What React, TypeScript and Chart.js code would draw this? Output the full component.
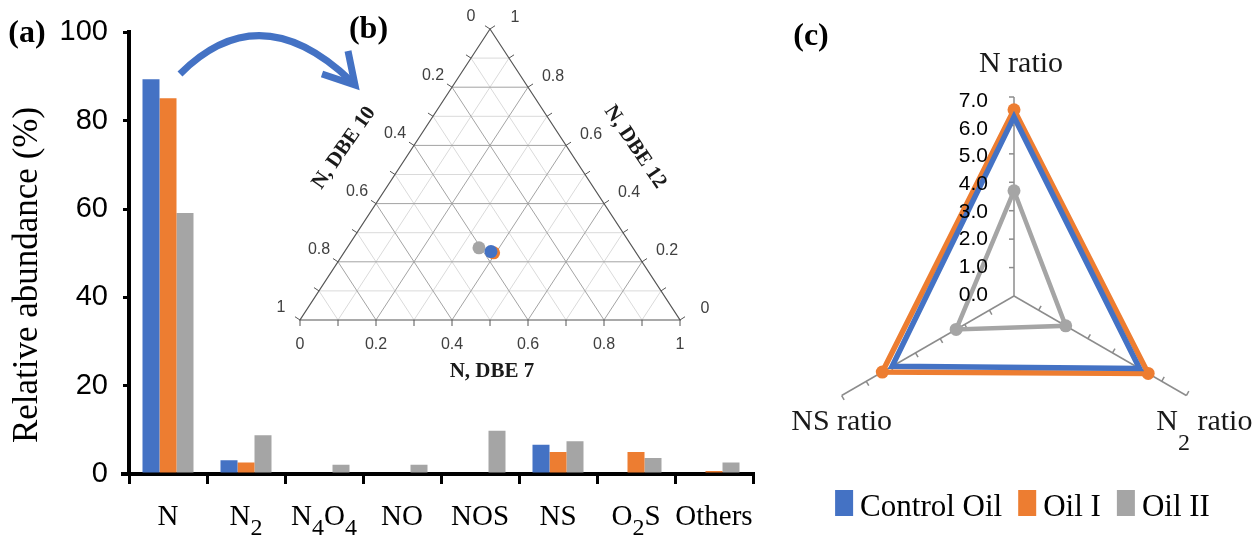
import React, { useEffect, useRef } from "react";
import { Chart, registerables } from "chart.js";

Chart.register(...registerables);

// ---------- Data ----------
const categories = ["N", "N2", "N4O4", "NO", "NOS", "NS", "O2S", "Others"];
const seriesNames = ["Control Oil", "Oil I", "Oil II"];
const controlOilAbundance = [89.4, 3.1, 0, 0, 0, 6.6, 0, 0];
const oilIAbundance = [85.1, 2.6, 0, 0, 0, 5.0, 5.0, 0.7];
const oilIIAbundance = [59.1, 8.8, 2.1, 2.1, 9.8, 7.4, 3.6, 2.6];
const abundanceTicks = [0, 20, 40, 60, 80, 100];

const ternaryDBE7 = [0.385, 0.394, 0.347];
const ternaryDBE10 = [0.38, 0.375, 0.405];
const ternaryDBE12 = [0.235, 0.231, 0.248];
const ternaryTickLabels = [0, 0.2, 0.4, 0.6, 0.8, 1];

const ratioLabels = ["N ratio", "N2 ratio", "NS ratio"];
const controlOilRatio = [6.3, 5.1, 4.95];
const oilIRatio = [6.55, 5.45, 5.35];
const oilIIRatio = [3.7, 2.1, 2.35];
const ratioTicks = [0, 1, 2, 3, 4, 5, 6, 7];

const COLORS = ["#4472C4", "#ED7D31", "#A5A5A5"];
const SERIF = '"Liberation Serif", "Times New Roman", serif';
const SANS = '"Liberation Sans", Arial, sans-serif';

// Draw a chemical-style label where digits are subscripts
function drawChem(
  ctx: CanvasRenderingContext2D,
  text: string,
  x: number,
  y: number,
  size: number,
  subSize: number,
  subShift: number,
  align: "center" | "left" | "right" = "center"
) {
  const runs = text.match(/\d+|\D+/g) || [];
  const mainFont = `${size}px ${SERIF}`;
  const subFont = `${subSize}px ${SERIF}`;
  const widths: number[] = [];
  let total = 0;
  for (const r of runs) {
    ctx.font = /\d/.test(r) ? subFont : mainFont;
    const w = ctx.measureText(r).width;
    widths.push(w);
    total += w;
  }
  let cx = align === "center" ? x - total / 2 : align === "right" ? x - total : x;
  ctx.textAlign = "left";
  ctx.textBaseline = "alphabetic";
  runs.forEach((r, i) => {
    const isSub = /\d/.test(r);
    ctx.font = isSub ? subFont : mainFont;
    ctx.fillText(r, cx, isSub ? y + subShift : y);
    cx += widths[i];
  });
}

// ---------- Bar chart (a) ----------
const barDecor = {
  id: "barDecor",
  afterDraw(chart: any) {
    const ctx: CanvasRenderingContext2D = chart.ctx;
    const xs = chart.scales.x;
    const area = chart.chartArea;
    ctx.save();
    // short extension of the x axis line to the left of the y axis
    ctx.strokeStyle = "#000";
    ctx.lineWidth = 4;
    ctx.beginPath();
    ctx.moveTo(area.left - 8, area.bottom);
    ctx.lineTo(area.left, area.bottom);
    ctx.stroke();
    ctx.fillStyle = "#000";
    categories.forEach((c, i) => {
      drawChem(ctx, c, xs.getPixelForValue(i), 525, 29, 24, 10, "center");
    });
    // y title
    ctx.save();
    ctx.translate(28, 275);
    ctx.rotate(-Math.PI / 2);
    ctx.font = `35px ${SERIF}`;
    ctx.textAlign = "center";
    ctx.textBaseline = "middle";
    ctx.fillText("Relative abundance (%)", 0, 0);
    ctx.restore();
    // panel label
    ctx.font = `bold 32px ${SERIF}`;
    ctx.textAlign = "center";
    ctx.textBaseline = "middle";
    ctx.fillText("(a)", 27, 34);
    // curved arrow
    ctx.strokeStyle = "#4472C4";
    ctx.lineWidth = 7;
    ctx.lineCap = "butt";
    ctx.lineJoin = "miter";
    ctx.beginPath();
    ctx.moveTo(180, 74);
    ctx.quadraticCurveTo(260, -6, 351, 81);
    ctx.stroke();
    ctx.beginPath();
    ctx.moveTo(322, 74);
    ctx.lineTo(355, 85);
    ctx.lineTo(348, 51);
    ctx.stroke();
    ctx.restore();
  },
};

function barConfig(): any {
  const values = [controlOilAbundance, oilIAbundance, oilIIAbundance];
  return {
    type: "bar",
    data: {
      labels: categories,
      datasets: seriesNames.map((n, i) => ({
        label: n,
        data: values[i],
        backgroundColor: COLORS[i],
        borderWidth: 0,
        categoryPercentage: 0.654,
        barPercentage: 1,
      })),
    },
    options: {
      responsive: false,
      animation: false,
      layout: { padding: { left: 0, top: 29, right: 17, bottom: 0 } },
      plugins: { legend: { display: false }, tooltip: { enabled: false } },
      scales: {
        x: {
          type: "category",
          grid: {
            offset: true,
            drawOnChartArea: false,
            drawTicks: true,
            tickLength: 10,
            color: "#000",
            lineWidth: 3,
          },
          border: { display: true, color: "#000", width: 4 },
          ticks: { display: false },
          afterFit: (s: any) => {
            s.height = 62;
          },
        },
        y: {
          min: 0,
          max: 100,
          afterBuildTicks: (s: any) => {
            s.ticks = abundanceTicks.map((v) => ({ value: v }));
          },
          ticks: {
            font: { family: SANS, size: 29 },
            color: "#000",
            padding: 15,
          },
          grid: {
            drawOnChartArea: false,
            tickLength: 6,
            color: "#000",
            lineWidth: 3,
          },
          border: { display: true, color: "#000", width: 4 },
          afterFit: (s: any) => {
            s.width = 129;
          },
        },
      },
    },
    plugins: [barDecor],
  };
}

// ---------- Ternary (b) ----------
const ternaryDecor = {
  id: "ternaryDecor",
  beforeDatasetsDraw(chart: any) {
    const ctx: CanvasRenderingContext2D = chart.ctx;
    const xs = chart.scales.x;
    const ys = chart.scales.y;
    const T = (b: number, r: number): [number, number] => [
      xs.getPixelForValue(b + 0.5 * r),
      ys.getPixelForValue(r),
    ];
    const seg = (a: [number, number], b: [number, number]) => {
      ctx.beginPath();
      ctx.moveTo(a[0], a[1]);
      ctx.lineTo(b[0], b[1]);
      ctx.stroke();
    };
    ctx.save();
    ctx.lineWidth = 1;
    for (const pass of [1, 0]) {
      for (let k = 1; k <= 9; k++) {
        if (k % 2 !== pass) continue;
        const v = k / 10;
        ctx.strokeStyle = k % 2 === 0 ? "#a3a3a3" : "#dadada";
        seg(T(0, v), T(1 - v, v));
        seg(T(v, 0), T(v, 1 - v));
        seg(T(1 - v, 0), T(0, 1 - v));
      }
    }
    // edges
    ctx.strokeStyle = "#555";
    ctx.lineWidth = 1.2;
    const BL = T(0, 0), BR = T(1, 0), TOP = T(0, 1);
    ctx.beginPath();
    ctx.moveTo(BL[0], BL[1]);
    ctx.lineTo(BR[0], BR[1]);
    ctx.lineTo(TOP[0], TOP[1]);
    ctx.closePath();
    ctx.stroke();
    // ticks
    const norm = (dx: number, dy: number): [number, number] => {
      const l = Math.hypot(dx, dy);
      return [dx / l, dy / l];
    };
    const ldx = TOP[0] - BL[0], ldy = TOP[1] - BL[1];
    const nL = norm(ldy, -ldx);
    const rdx = BR[0] - TOP[0], rdy = BR[1] - TOP[1];
    const nR = norm(rdy, -rdx);
    const tl = 6;
    ctx.lineWidth = 1;
    ctx.strokeStyle = "#555";
    for (let k = 0; k <= 10; k++) {
      const v = k / 10;
      const pb = T(v, 0);
      seg(pb, [pb[0], pb[1] + tl]);
      const pl = T(0, 1 - v);
      seg(pl, [pl[0] + nL[0] * tl, pl[1] + nL[1] * tl]);
      const pr = T(1 - v, v);
      seg(pr, [pr[0] + nR[0] * tl, pr[1] + nR[1] * tl]);
    }
    // tick labels
    ctx.fillStyle = "#404040";
    ctx.font = `16px ${SANS}`;
    ctx.textAlign = "center";
    ctx.textBaseline = "middle";
    ternaryTickLabels.forEach((v) => {
      const s = String(v);
      const pb = T(v, 0);
      ctx.fillText(s, pb[0], pb[1] + 25);
      const pl = T(0, 1 - v);
      ctx.fillText(s, pl[0] - 19, pl[1] - 12);
      const pr = T(1 - v, v);
      ctx.fillText(s, pr[0] + 25, pr[1] - 11);
    });
    // axis titles
    ctx.fillStyle = "#1a1a1a";
    ctx.font = `bold 21px ${SERIF}`;
    ctx.fillText("N, DBE 7", (BL[0] + BR[0]) / 2 + 2, BL[1] + 52);
    ctx.save();
    ctx.translate(84, 148);
    ctx.rotate((-55 * Math.PI) / 180);
    ctx.fillText("N, DBE 10", 0, 0);
    ctx.restore();
    ctx.save();
    ctx.translate(375, 147);
    ctx.rotate((56 * Math.PI) / 180);
    ctx.fillText("N, DBE 12", 0, 0);
    ctx.restore();
    // panel label
    ctx.fillStyle = "#000";
    ctx.font = `bold 32px ${SERIF}`;
    ctx.fillText("(b)", 108.5, 30);
    ctx.restore();
  },
};

function ternaryConfig(): any {
  return {
    type: "scatter",
    data: {
      datasets: seriesNames.map((n, i) => {
        const s = ternaryDBE7[i] + ternaryDBE10[i] + ternaryDBE12[i];
        const b = ternaryDBE7[i] / s;
        const r = ternaryDBE12[i] / s;
        return {
          label: n,
          data: [{ x: b + 0.5 * r, y: r }],
          backgroundColor: COLORS[i],
          borderWidth: 0,
          pointRadius: 6.5,
          clip: false,
        };
      }),
    },
    options: {
      responsive: false,
      animation: false,
      layout: { padding: { left: 40, right: 40, top: 29, bottom: 70 } },
      plugins: { legend: { display: false }, tooltip: { enabled: false } },
      scales: {
        x: { type: "linear", min: 0, max: 1, display: false },
        y: { type: "linear", min: 0, max: 1, display: false },
      },
    },
    plugins: [ternaryDecor],
  };
}

// ---------- Radar (c) ----------
const labelOffsets: [number, number][] = [
  [7, -25],
  [18, 34.5],
  [0, 34.5],
];

const radarDecor = {
  id: "radarDecor",
  beforeDatasetsDraw(chart: any) {
    const ctx: CanvasRenderingContext2D = chart.ctx;
    const sc = chart.scales.r;
    ctx.save();
    ctx.strokeStyle = "#8c8c8c";
    ctx.lineWidth = 1.5;
    for (let i = 0; i < ratioLabels.length; i++) {
      const a = sc.getIndexAngle(i) - Math.PI / 2;
      const d = [Math.cos(a), Math.sin(a)];
      const n = [d[1], -d[0]];
      ratioTicks.forEach((v) => {
        if (v === 0) return;
        const p = sc.getPointPositionForValue(i, v);
        ctx.beginPath();
        ctx.moveTo(p.x, p.y);
        ctx.lineTo(p.x + n[0] * 5, p.y + n[1] * 5);
        ctx.stroke();
      });
    }
    ctx.restore();
  },
  afterDatasetsDraw(chart: any) {
    const ctx: CanvasRenderingContext2D = chart.ctx;
    const sc = chart.scales.r;
    ctx.save();
    ctx.fillStyle = "#000";
    ctx.font = `21px ${SANS}`;
    ctx.textAlign = "right";
    ctx.textBaseline = "middle";
    ratioTicks.forEach((v) => {
      const p = sc.getPointPositionForValue(0, v);
      ctx.fillText(v.toFixed(1), p.x - 26, p.y - 1 + (5 * v) / 7);
    });
    ctx.restore();
  },
  afterDraw(chart: any) {
    const ctx: CanvasRenderingContext2D = chart.ctx;
    const sc = chart.scales.r;
    ctx.save();
    ctx.fillStyle = "#1a1a1a";
    ratioLabels.forEach((lab, i) => {
      const p = sc.getPointPositionForValue(i, sc.max);
      drawChem(ctx, lab, p.x + labelOffsets[i][0], p.y + labelOffsets[i][1], 30, 24, 20, "center");
    });
    // panel label
    ctx.fillStyle = "#000";
    ctx.font = `bold 32px ${SERIF}`;
    ctx.textAlign = "center";
    ctx.textBaseline = "middle";
    ctx.fillText("(c)", 41, 37);
    // legend
    const ds = chart.data.datasets;
    ctx.font = `31px ${SERIF}`;
    const boxW = 18, boxH = 26, gapT = 7, gapI = 16;
    const widths = ds.map((d: any) => boxW + gapT + ctx.measureText(d.label).width);
    const total = widths.reduce((a: number, b: number) => a + b, 0) + gapI * (ds.length - 1);
    let x = 252.5 - total / 2;
    ctx.textAlign = "left";
    ctx.textBaseline = "alphabetic";
    ds.forEach((d: any, i: number) => {
      ctx.fillStyle = d.borderColor;
      ctx.fillRect(x, 490, boxW, boxH);
      ctx.fillStyle = "#000";
      ctx.fillText(d.label, x + boxW + gapT, 516);
      x += widths[i] + gapI;
    });
    ctx.restore();
  },
};

function radarConfig(): any {
  const values = [controlOilRatio, oilIRatio, oilIIRatio];
  return {
    type: "radar",
    data: {
      labels: ratioLabels,
      datasets: seriesNames.map((n, i) => ({
        label: n,
        data: values[i],
        borderColor: COLORS[i],
        backgroundColor: COLORS[i],
        borderWidth: i === 2 ? 4.5 : 5.5,
        pointRadius: i === 0 ? 0 : 6.5,
        pointBackgroundColor: COLORS[i],
        pointBorderWidth: 0,
        fill: false,
        clip: false,
      })),
    },
    options: {
      responsive: false,
      animation: false,
      layout: { padding: { left: 45, right: 43, top: 97, bottom: 41 } },
      plugins: { legend: { display: false }, tooltip: { enabled: false } },
      elements: { line: { tension: 0 } },
      scales: {
        r: {
          min: 0,
          max: 7,
          ticks: { display: false, stepSize: 1 },
          grid: { display: false },
          angleLines: { display: true, color: "#8c8c8c", lineWidth: 1.5 },
          pointLabels: { display: false },
        },
      },
    },
    plugins: [radarDecor],
  };
}

export default function App() {
  const barRef = useRef<HTMLCanvasElement>(null);
  const terRef = useRef<HTMLCanvasElement>(null);
  const radRef = useRef<HTMLCanvasElement>(null);

  useEffect(() => {
    const charts = [
      new Chart(barRef.current as HTMLCanvasElement, barConfig()),
      new Chart(terRef.current as HTMLCanvasElement, ternaryConfig()),
      new Chart(radRef.current as HTMLCanvasElement, radarConfig()),
    ];
    return () => charts.forEach((c) => c.destroy());
  }, []);

  return (
    <div
      style={{
        position: "fixed",
        left: 0,
        top: 0,
        width: 1256,
        height: 536,
        background: "#fff",
        overflow: "hidden",
      }}
    >
      <canvas ref={barRef} width={770} height={536} style={{ position: "absolute", left: 0, top: 0 }} />
      <canvas ref={terRef} width={460} height={390} style={{ position: "absolute", left: 260, top: 0 }} />
      <canvas ref={radRef} width={486} height={536} style={{ position: "absolute", left: 770, top: 0 }} />
    </div>
  );
}
